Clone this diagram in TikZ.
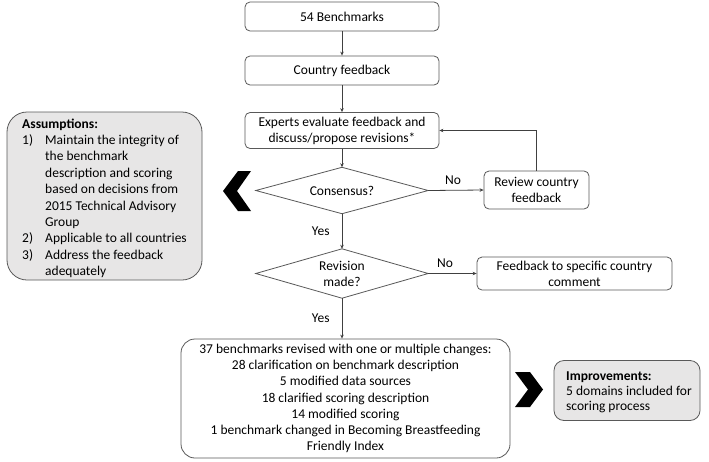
\documentclass[tikz,border=0pt]{standalone}
\usepackage{fontspec}
\setmainfont{Carlito}
\usetikzlibrary{arrows.meta}
\definecolor{ln}{HTML}{404040}
\definecolor{bd}{HTML}{595959}
\definecolor{fillg}{HTML}{E7E6E6}
\begin{document}
\begin{tikzpicture}[x=1pt,y=-1pt,
  font=\fontsize{13.5}{16.2}\selectfont,
  box/.style={draw=bd, line width=0.8pt, rounded corners=5pt, align=center, inner sep=0pt},
  dia/.style={align=center, inner sep=0pt},
  diaedge/.style={draw=bd, line width=0.8pt},
  arr/.style={draw=ln, line width=0.8pt, -{Stealth[length=4pt,width=3.5pt]}},
  lbl/.style={inner sep=0pt},
  chev/.style={fill=black, draw=none}]
\useasboundingbox (0,0) rectangle (709,461);
\fill[white] (0,0) rectangle (709,461);

% main column
\node[box, minimum width=194pt, minimum height=29pt] (b54) at (342,16.5) {54 Benchmarks};
\node[box, minimum width=194pt, minimum height=29pt] (cf) at (342,70.5) {Country feedback};
\node[box, minimum width=194pt, minimum height=36pt] (exp) at (342,130.5) {Experts evaluate feedback and\\discuss/propose revisions*};
\node[dia, minimum width=172pt, minimum height=46pt] (cons) at (342,190.5) {Consensus?};
\draw[diaedge] (cons.north) -- (cons.east) -- (cons.south) -- (cons.west) -- cycle;
\node[box, minimum width=105pt, minimum height=38pt] (rev) at (536.5,190) {Review country\\feedback};
\node[dia, minimum width=172pt, minimum height=49pt] (revm) at (342,273.5) {Revision\\made?};
\draw[diaedge] (revm.north) -- (revm.east) -- (revm.south) -- (revm.west) -- cycle;
\node[box, minimum width=195pt, minimum height=33pt] (fb) at (574.5,273.5) {Feedback to specific country\\comment};
\node[box, rounded corners=14pt, minimum width=329pt, minimum height=119pt] (big) at (345.5,398.5)
  {37 benchmarks revised with one or multiple changes:\\
   28 clarification on benchmark description\\
   5 modified data sources\\
   18 clarified scoring description\\
   14 modified scoring\\
   1 benchmark changed in Becoming Breastfeeding\\
   Friendly Index};

% side boxes
\node[box, fill=fillg, rounded corners=20pt, minimum width=195pt, minimum height=168pt] (ass) at (104.5,196) {};
\node[lbl, anchor=north west, align=left, font=\fontsize{13.5}{16.4}\selectfont] (asstxt) at (22,118.5)
  {\textbf{Assumptions:}\\
   \makebox[23pt][l]{1)}Maintain the integrity of\\
   \hspace*{23pt}the benchmark\\
   \hspace*{23pt}description and scoring\\
   \hspace*{23pt}based on decisions from\\
   \hspace*{23pt}2015 Technical Advisory\\
   \hspace*{23pt}Group\\
   \makebox[23pt][l]{2)}Applicable to all countries\\
   \makebox[23pt][l]{3)}Address the feedback\\
   \hspace*{23pt}adequately};
\node[box, fill=fillg, rounded corners=10pt, minimum width=146pt, minimum height=60pt] (imp) at (627,390.5) {};
\node[lbl, anchor=north west, align=left, font=\fontsize{13.5}{15}\selectfont] (imptxt) at (566,371.5)
  {\textbf{Improvements:}\\5 domains included for\\scoring process};

% chevrons
\fill[chev] (251,171) -- (238,171) -- (223,191) -- (238,211) -- (251,211) -- (237,191) -- cycle;
\fill[chev] (515,372) -- (530,372) -- (543,389.5) -- (530,407) -- (515,407) -- (528,389.5) -- cycle;

% connectors
\draw[arr] (b54) -- (cf);
\draw[arr] (cf) -- (exp);
\draw[arr] (exp) -- (cons.north);
\draw[arr] (cons.east) -- node[lbl, above=5pt, pos=0.45] (no1) {No} (rev.west);
\draw[arr] (rev.north) |- (exp.east);
\draw[arr] (cons.south) -- node[lbl, left=12pt] (yes1) {Yes} (revm.north);
\draw[arr] (revm.east) -- node[lbl, above=6pt, pos=0.35] (no2) {No} (fb.west);
\draw[arr] (revm.south) -- node[lbl, left=12pt] (yes2) {Yes} (revm.south |- big.north);
\end{tikzpicture}
\end{document}
